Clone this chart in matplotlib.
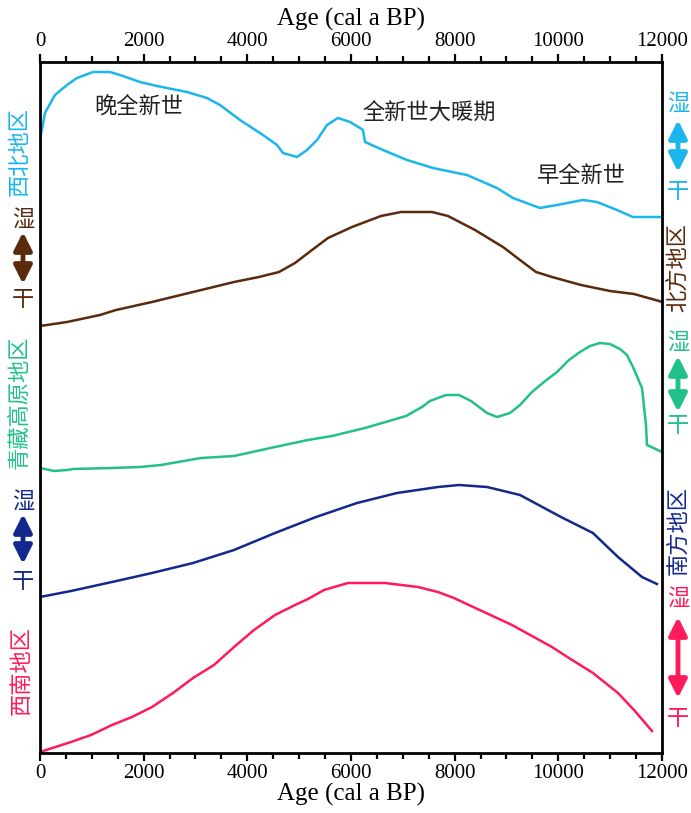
import matplotlib
matplotlib.use("Agg")
import matplotlib.pyplot as plt
from matplotlib.patches import FancyArrowPatch
from matplotlib.ticker import MultipleLocator

# ---------------- data (age in cal a BP, curve value in plot units) ----------------
nw_age = [0, 96, 289, 521, 714, 1022, 1350, 1543, 1929, 2257, 2836, 3222, 3472, 3858, 4302,
          4572, 4688, 4958, 5151, 5344, 5537, 5749, 5980, 6173, 6231, 6270, 6617, 7080, 7581,
          8237, 8815, 9124, 9645, 9973, 10475, 10745, 11130, 11439, 12000]
nw_val = [613, 640, 658, 668, 675, 681, 681, 678, 671, 667, 661, 655, 648, 633, 618,
          608, 600, 596, 603, 613, 628, 635, 631, 625, 623, 611, 603, 593, 585,
          578, 565, 555, 545, 548, 553, 551, 543, 536, 536]

n_age = [0, 521, 1157, 1466, 2161, 2952, 3743, 4225, 4611, 4920, 5248, 5556, 6019, 6579,
         6965, 7563, 7871, 8392, 8932, 9260, 9569, 9878, 10437, 10997, 11460, 11942, 12000]
n_val = [427, 431, 438, 443, 451, 461, 471, 476, 481, 490, 503, 515, 526, 537,
         541, 541, 537, 523, 506, 493, 481, 476, 468, 462, 459, 452, 451]

tp_age = [0, 270, 521, 637, 1389, 1929, 2334, 3106, 3743, 4534, 5170, 5633, 6270, 6733,
          7061, 7370, 7524, 7833, 8083, 8315, 8624, 8817, 9067, 9260, 9492, 9723, 9974,
          10205, 10417, 10610, 10803, 10996, 11189, 11324, 11440, 11614, 11691, 11710, 12000]
tp_val = [285, 282, 283, 284, 285, 286, 288, 295, 297, 306, 313, 317, 325, 332,
          337, 346, 352, 358, 358, 352, 340, 336, 340, 348, 361, 371, 381,
          393, 401, 407, 410, 409, 404, 398, 386, 365, 328, 308, 301]

s_age = [0, 598, 1389, 2161, 2952, 3743, 4534, 5325, 6116, 6888, 7678, 8083, 8624, 9260,
         10051, 10668, 11151, 11614, 11903]
s_val = [156, 162, 171, 180, 190, 203, 220, 236, 250, 260, 266, 268, 266, 258,
         236, 220, 196, 176, 169]

sw_age = [0, 598, 984, 1389, 1775, 2161, 2566, 2952, 3357, 3743, 4128, 4534, 4920, 5170,
          5479, 5942, 6655, 7292, 7678, 7986, 8315, 9106, 9877, 10205, 10668, 11151,
          11460, 11807]
sw_val = [1, 11, 18, 28, 36, 46, 60, 75, 88, 106, 123, 138, 148, 154,
          163, 170, 170, 166, 161, 155, 147, 128, 106, 95, 80, 60, 43, 22]

regions = ["西北地区", "北方地区", "青藏高原地区", "南方地区", "西南地区"]
colors = ["#1BB6EC", "#5A2A0C", "#22C08A", "#13288C", "#FF1B5A"]
periods = ["晚全新世", "全新世大暖期", "早全新世"]
wet_label, dry_label = "湿", "干"
x_label = "Age (cal a BP)"

# ---------------- figure ----------------
W, H = 691, 813
fig = plt.figure(figsize=(W / 100, H / 100), dpi=100)
ax = fig.add_axes([40 / W, 60 / H, 622 / W, 691 / H])

series = [(nw_age, nw_val), (n_age, n_val), (tp_age, tp_val), (s_age, s_val), (sw_age, sw_val)]
for (a, v), c in zip(series, colors):
    ax.plot(a, v, color=c, lw=1.8, solid_joinstyle="round")

ax.set_xlim(0, 12000)
ax.set_ylim(0, 691)
ax.set_yticks([])
for s in ax.spines.values():
    s.set_linewidth(2.0)
    s.set_color("black")

serif = "Liberation Serif"
ax.xaxis.set_major_locator(MultipleLocator(2000))
ax.xaxis.set_minor_locator(MultipleLocator(500))
ax.tick_params(axis="x", which="both", direction="out", top=True, bottom=True,
               labeltop=True, labelbottom=True, width=1.6, color="black")
ax.tick_params(axis="x", which="major", length=6, pad=2)
ax.tick_params(axis="x", which="minor", length=4)
for lbl in ax.get_xticklabels():
    lbl.set_fontfamily(serif)
    lbl.set_fontsize(15)
ax.set_xlabel(x_label, fontfamily=serif, fontsize=18, labelpad=0)
fig.text(351 / W, 1 - 19 / H, x_label, fontfamily=serif, fontsize=18, ha="center", va="center")

cjk = ["Noto Sans CJK SC", "DejaVu Sans"]

def fx(px):
    return px / W

def fy(py):
    return 1 - py / H

# period annotations
for t, (px, py) in zip(periods, [(139, 107), (429, 113), (581, 175)]):
    fig.text(fx(px), fy(py), t, family=cjk, fontsize=16, ha="center", va="center",
             color="#222222")

# region labels (rotated)
region_pos = [(19, 151), (679, 268), (19, 402), (679, 530), (21, 670)]
for t, c, (px, py) in zip(regions, colors, region_pos):
    fig.text(fx(px), fy(py), t, family=cjk, fontsize=16, rotation=90,
             ha="center", va="center", color=c)

# wet/dry indicators: (x, wet_y, arrow_top, arrow_bottom, dry_y)
indicators = [
    (678, 103, 120, 172, 192, colors[0]),
    (23, 219, 232, 284, 299, colors[1]),
    (678, 342, 356, 412, 425, colors[2]),
    (23, 501, 514, 564, 581, colors[3]),
    (678, 598, 617, 698, 718, colors[4]),
]
for px, wy, at, ab, dy, c in indicators:
    fig.text(fx(px), fy(wy), wet_label, family=cjk, fontsize=16, ha="center", va="center", color=c)
    fig.text(fx(px), fy(dy), dry_label, family=cjk, fontsize=16, ha="center", va="center", color=c)
    arr = FancyArrowPatch((fx(px), fy(at)), (fx(px), fy(ab)), transform=fig.transFigure,
                          arrowstyle="<|-|>,head_length=0.6,head_width=0.3",
                          mutation_scale=18, lw=3.5, color=c, shrinkA=0, shrinkB=0)
    fig.patches.append(arr)

fig.savefig("out.png", dpi=100)
